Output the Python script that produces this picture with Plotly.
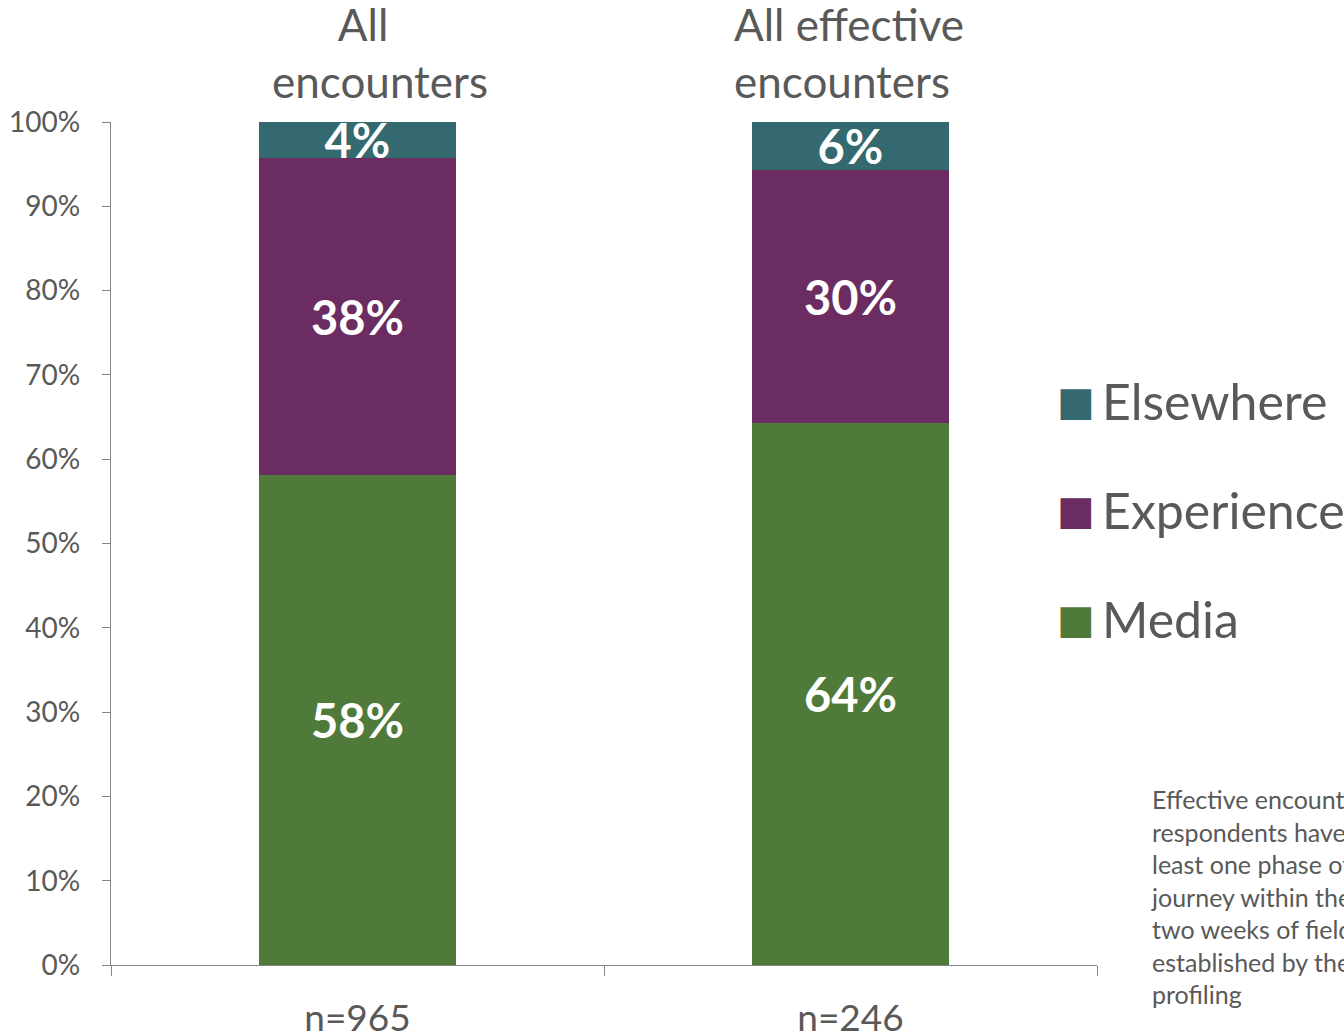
import plotly.graph_objects as go

categories = ["All encounters", "All effective encounters"]
title_lines = ["All\u00a0\u00a0\u00a0<br>encounters", "All effective<br>encounters"]
n_labels = ["n=965", "n=246"]
series_names = ["Media", "Experience", "Elsewhere"]
media = [58.1, 64.3]
experience = [37.6, 30.0]
elsewhere = [4.3, 5.7]
y_ticks = [0, 10, 20, 30, 40, 50, 60, 70, 80, 90, 100]
y_ticktext = [f"{v}%" for v in y_ticks]
note = ("Effective encounters:<br>respondents have had at<br>least one phase of the<br>"
        "journey within the first<br>two weeks of fieldwork<br>established by the<br>profiling")

colors = {"Media": "#4F7A3A", "Experience": "#6A2C61", "Elsewhere": "#33696F"}
values = {"Media": media, "Experience": experience, "Elsewhere": elsewhere}
FONT = "Lato, 'Open Sans', sans-serif"
GRAY = "#595959"

fig = go.Figure()
for name in series_names:
    fig.add_trace(go.Bar(
        x=categories, y=values[name], name=name,
        marker=dict(color=colors[name], line=dict(width=0)),
        texttemplate="%{y:.0f}%", textposition="inside", insidetextanchor="middle",
        constraintext="none",
        textfont=dict(family=FONT, size=47, color="white", weight="bold"),
        showlegend=False, hoverinfo="skip",
    ))

fig.update_layout(
    barmode="stack", bargap=0.6,
    width=1344, height=1035,
    margin=dict(l=111, r=247, t=122, b=70),
    plot_bgcolor="white", paper_bgcolor="white",
    font=dict(family=FONT, color=GRAY),
)
fig.update_yaxes(
    range=[0, 100], tickvals=y_ticks, ticktext=y_ticktext, automargin=False,
    showgrid=False, zeroline=False, showline=True, linecolor="#868686", linewidth=1.3,
    ticks="outside", ticklen=8, tickcolor="#868686", tickwidth=1.3,
    tickfont=dict(size=28, color=GRAY, family=FONT), ticklabelstandoff=16,
)
fig.update_xaxes(
    tickvals=categories, ticktext=n_labels, tickson="boundaries", automargin=False,
    showgrid=False, showline=True, linecolor="#868686", linewidth=1.3,
    ticks="outside", ticklen=10, tickcolor="#868686", tickwidth=1.3,
    tickfont=dict(size=37, color=GRAY, family=FONT), ticklabelstandoff=20,
)

# category titles above bars
shifts = [22, -2]
for cat, txt, sh in zip(categories, title_lines, shifts):
    fig.add_annotation(x=cat, xref="x", y=1, yref="paper", yanchor="bottom", yshift=13,
                       xshift=sh, text=txt, showarrow=False, align="left" if sh < 0 else "center",
                       font=dict(size=44, color=GRAY, family=FONT))

# custom legend (Elsewhere on top)
legend_y = [0.669, 0.5397, 0.4105]
for name, ly in zip(series_names[::-1], legend_y):
    fig.add_annotation(x=0.9574, xref="paper", y=ly, yref="paper", xanchor="left", yanchor="middle",
                       text="■", showarrow=False,
                       font=dict(size=40, color=colors[name], family="DejaVu Sans"))
    fig.add_annotation(x=1.003, xref="paper", y=ly, yref="paper", xanchor="left",
                       yanchor="middle", text=name, showarrow=False,
                       font=dict(size=50, color=GRAY, family=FONT))

fig.add_annotation(x=1.0528, xref="paper", y=0.2176, yref="paper", xanchor="left", yanchor="top",
                   text=note, showarrow=False, align="left",
                   font=dict(size=25, color=GRAY, family=FONT))

fig.write_html("out.html", config={"displayModeBar": False},
               post_script="document.body.style.margin='0px';")
